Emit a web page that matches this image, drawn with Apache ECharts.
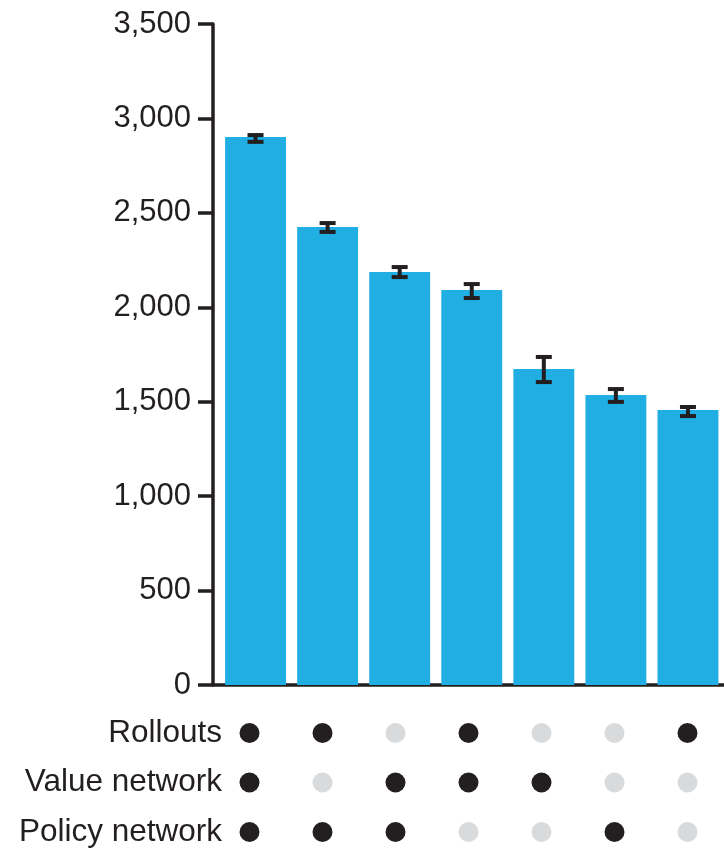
<!DOCTYPE html>
<html>
<head>
<meta charset="utf-8">
<script src="https://cdn.jsdelivr.net/npm/echarts@6/dist/echarts.min.js"></script>
<style>html,body{margin:0;padding:0;background:#fff}#c{width:724px;height:849px}</style>
</head>
<body>
<div id="c"></div>
<script>
var categories = ['1', '2', '3', '4', '5', '6', '7'];
var values = [2902, 2425, 2187, 2091, 1673, 1535, 1456];
var errLow = [2876, 2399, 2160, 2049, 1604, 1499, 1424];
var errHigh = [2912, 2446, 2213, 2123, 1737, 1567, 1472];
var yTicks = [0, 500, 1000, 1500, 2000, 2500, 3000, 3500];
var rowLabels = ['Rollouts', 'Value network', 'Policy network'];
var rollouts = [1, 1, 0, 1, 0, 0, 1];
var valueNet = [1, 0, 1, 1, 1, 0, 0];
var policyNet = [1, 1, 1, 0, 0, 1, 0];

var INK = '#231f20';
var BLUE = '#20aee3';
var GREY = '#d9dadc';
var FONT = 'Liberation Sans';

var rows = [rollouts, valueNet, policyNet];
var dotData = [];
rows.forEach(function (r, ri) {
  r.forEach(function (v, ci) { dotData.push([ci, ri, v]); });
});
var errData = categories.map(function (c, i) { return [i, errLow[i], errHigh[i]]; });

var chart = echarts.init(document.getElementById('c'), null, {renderer: 'canvas'});
chart.setOption({
  animation: false,
  backgroundColor: '#fff',
  grid: [
    {left: 219.5, right: 0, top: 24, bottom: 164},
    {left: 213, right: 0, top: 733, bottom: 17}
  ],
  xAxis: [
    {gridIndex: 0, type: 'category', data: categories,
     axisLine: {show: false}, axisTick: {show: false}, axisLabel: {show: false}},
    {gridIndex: 1, type: 'category', data: categories, position: 'top', offset: 48,
     axisLine: {show: true, lineStyle: {color: INK, width: 3.5}},
     axisTick: {show: false}, axisLabel: {show: false}}
  ],
  yAxis: [
    {gridIndex: 0, type: 'value', min: 0, max: 3500, interval: 500, offset: 6.5,
     axisLine: {show: true, lineStyle: {color: INK, width: 3.5}},
     axisTick: {show: true, length: 15, lineStyle: {color: INK, width: 3.5}},
     axisLabel: {color: INK, fontSize: 31, fontFamily: FONT, margin: 22,
       formatter: function (v) { return v.toLocaleString('en-US'); }},
     splitLine: {show: false}},
    {gridIndex: 1, type: 'category', data: rowLabels, inverse: true, boundaryGap: false,
     axisLine: {show: false}, axisTick: {show: false},
     axisLabel: {color: INK, fontSize: 31.5, fontFamily: FONT, margin: -9}}
  ],
  series: [
    {type: 'bar', xAxisIndex: 0, yAxisIndex: 0, data: values, barCategoryGap: '15.5%',
     itemStyle: {color: BLUE}},
    {type: 'custom', xAxisIndex: 0, yAxisIndex: 0, data: errData, z: 5,
     renderItem: function (params, api) {
       var lo = api.coord([api.value(0), api.value(1)]);
       var hi = api.coord([api.value(0), api.value(2)]);
       var hw = 8;
       var st = {stroke: INK, lineWidth: 4};
       return {type: 'group', children: [
         {type: 'line', shape: {x1: lo[0], y1: lo[1], x2: hi[0], y2: hi[1]}, style: st},
         {type: 'line', shape: {x1: lo[0] - hw, y1: lo[1], x2: lo[0] + hw, y2: lo[1]}, style: st},
         {type: 'line', shape: {x1: hi[0] - hw, y1: hi[1], x2: hi[0] + hw, y2: hi[1]}, style: st}
       ]};
     }},
    {type: 'scatter', xAxisIndex: 1, yAxisIndex: 1, data: dotData, symbolSize: 20,
     itemStyle: {opacity: 1, color: function (p) { return p.data[2] ? INK : GREY; }}}
  ]
});
</script>
</body>
</html>
